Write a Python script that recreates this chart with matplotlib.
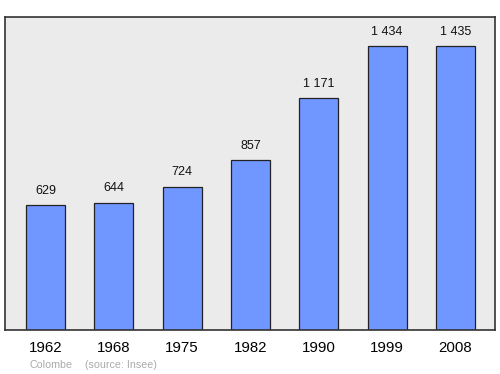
import matplotlib.pyplot as plt

plt.rcParams['font.family'] = ['Liberation Sans', 'DejaVu Sans']

years = ['1962', '1968', '1975', '1982', '1990', '1999', '2008']
population = [629, 644, 724, 857, 1171, 1434, 1435]
value_labels = ['629', '644', '724', '857', '1 171', '1 434', '1 435']

fig = plt.figure(figsize=(5, 3.74), dpi=100)
ax = fig.add_axes([0.01, 0.1176, 0.98, 0.837])
ax.set_facecolor('#ebebeb')

x = list(range(len(years)))
ax.bar(x, population, width=0.57, color='#7096ff', edgecolor='#222222', linewidth=0.9, zorder=2)

for xi, v, lab in zip(x, population, value_labels):
    ax.annotate(lab, (xi, v), xytext=(0, 6), textcoords='offset points',
                ha='center', va='bottom', fontsize=9, color='#111111')

ax.set_xlim(-0.593, 6.58)
ax.set_ylim(0, 1581)
ax.set_xticks(x)
ax.set_xticklabels(years, fontsize=10.8)
ax.tick_params(axis='x', length=0, pad=8)
ax.set_yticks([])
for s in ax.spines.values():
    s.set_color('#333333')
    s.set_linewidth(1.2)

fig.text(30 / 500, 1 - 365 / 374, 'Colombe', fontsize=7.7, color='#aaaaaa', va='center')
fig.text(85 / 500, 1 - 365 / 374, '(source: Insee)', fontsize=7.7, color='#aaaaaa', va='center')

fig.savefig('out.png', dpi=100)
